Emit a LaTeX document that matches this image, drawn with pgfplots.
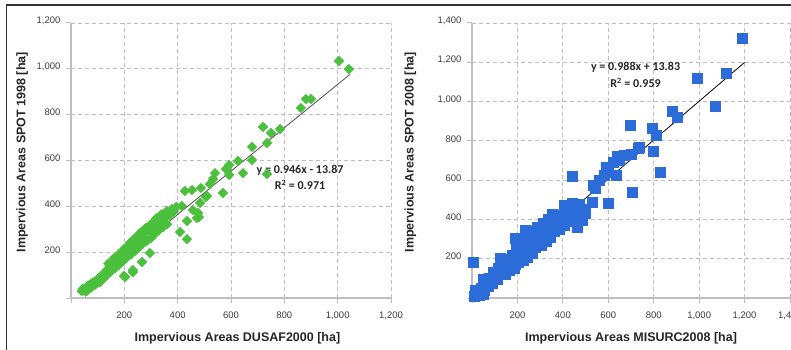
\documentclass[border=0pt]{standalone}
\usepackage{pgfplots}
\pgfplotsset{compat=1.18}
\usepackage{fontspec}
\setmainfont{Liberation Sans}
\newfontfamily\eqfont{Carlito}
\definecolor{ptgreen}{RGB}{74,192,60}
\definecolor{ptblue}{RGB}{44,108,216}
\definecolor{axgray}{RGB}{190,190,190}
\definecolor{txtgray}{RGB}{60,60,60}

\pgfplotstableread{
x y
40 30
45 42
50 35
55 28
58 48
62 40
66 55
70 46
74 60
78 52
82 68
86 58
90 72
95 64
100 82
104 74
108 90
109 70
112 80
116 98
120 92
124 108
128 100
132 118
136 110
140 128
144 120
148 140
152 132
156 150
160 142
164 158
168 150
172 170
176 160
180 178
184 170
188 190
192 180
196 200
200 190
204 208
208 198
212 220
216 210
220 228
224 218
228 240
232 230
236 250
240 238
244 258
248 248
252 268
256 256
260 280
264 268
268 290
272 278
276 298
280 288
285 305
290 295
295 315
300 305
305 325
310 312
315 335
320 322
325 342
330 332
336 350
342 340
348 362
355 352
362 370
370 362
378 388
386 378
395 398
60 32
75 45
90 58
105 70
120 82
135 100
150 115
165 130
180 145
195 160
210 178
225 190
240 205
255 220
270 238
285 250
300 262
315 280
330 295
345 310
360 322
199 96
203 92
232 113
232 122
266 157
296 196
409 288
435 257
435 336
472 349
480 353
476 371
457 384
382 384
416 401
484 415
140 150
160 172
180 192
200 215
220 240
240 262
260 285
280 305
300 322
320 348
340 365
360 380
427 467
454 471
487 480
570 458
510 445
506 441
521 497
533 519
540 545
593 537
585 559
581 563
593 580
626 598
679 602
645 545
679 659
735 676
720 746
750 720
784 737
735 541
862 829
881 868
900 868
1005 1034
1042 999
}\leftdata

\pgfplotstableread{
x y
10 10
20 30
30 15
40 50
48 97
55 40
60 70
70 60
80 90
90 75
100 110
110 95
120 130
123 204
130 120
140 160
150 140
160 180
170 155
180 200
189 305
190 170
200 220
205 180
210 240
220 200
230 260
233 346
240 230
250 270
260 240
270 300
280 260
285 361
290 320
300 280
310 340
320 300
330 360
340 320
350 380
351 428
360 340
370 400
380 360
390 420
400 380
408 473
410 440
420 400
430 460
440 420
443 484
450 470
460 440
461 412
461 361
470 480
480 450
487 397
500 430
4 183
13 41
50 20
75 100
95 130
115 150
135 180
155 200
175 220
195 260
215 280
235 300
255 320
275 340
295 360
315 380
335 400
355 420
145 120
165 140
185 150
225 190
245 210
265 230
305 270
325 290
345 310
385 350
405 370
425 390
445 400
527 489
535 575
543 560
584 626
592 667
601 484
636 626
443 621
593 667
641 723
671 728
702 733
733 764
737 769
707 540
830 641
698 881
794 866
812 830
799 748
882 952
904 921
992 1120
1071 977
1119 1146
1189 1324
560 600
600 640
620 690
650 700
}\rightdata

\pgfplotsset{
  panel/.style={
    scale only axis,
    axis lines=left,
    axis line style={-, draw=axgray, line width=1.6pt},
    grid=major,
    grid style={draw=axgray, line width=0.9pt, dash pattern=on 4pt off 3pt},
    tick align=outside,
    tick pos=left,
    major tick length=5pt,
    tick style={draw=axgray, line width=1pt},
    ticklabel style={font=\fontsize{9.5}{11}\selectfont, text=txtgray},
    xticklabel style={yshift=-5pt},
    yticklabel style={yshift=2pt, xshift=-2pt},
    label style={font=\bfseries\fontsize{12.5}{14}\selectfont, text=black!85},
    scaled ticks=false,
    /pgf/number format/assume math mode=true,
    /pgf/number format/1000 sep={,},
    extra x ticks={0}, extra y ticks={0},
    extra x tick labels={}, extra y tick labels={},
    extra tick style={grid=none},
    clip=false,
  },
}
\tikzset{eqtext/.style={font=\eqfont\bfseries\fontsize{12}{13}\selectfont, text=black!85}}

\begin{document}
\begin{tikzpicture}[x=1pt,y=1pt]
\draw[black!80, line width=1.3pt] (6.5,0) -- (6.5,345) -- (791,345);

\begin{axis}[panel,
  at={(71pt,52pt)}, anchor=south west,
  width=320pt, height=275pt,
  xmin=0, xmax=1200, ymin=0, ymax=1200,
  xtick={200,400,...,1200}, ytick={200,400,...,1200},
  xlabel={Impervious Areas DUSAF2000 [ha]},
  ylabel={Impervious Areas SPOT 1998 [ha]},
  xlabel style={at={(axis description cs:0.52,-0.145)}, anchor=center},
  ylabel style={at={(axis description cs:-0.153,0.53)}, anchor=center},
]
\addplot[only marks, mark=square*, mark size=3.4pt, mark options={rotate=45, fill=ptgreen, draw=ptgreen}] table[x=x,y=y] {\leftdata};
\addplot[no marks, black!70, line width=0.8pt] coordinates {(41,24.9) (1046,975.6)};
\node[eqtext] at (axis cs:859,559) {y = 0.946x - 13.87};
\node[eqtext] at (axis cs:859,493) {R\textsuperscript{2} = 0.971};
\end{axis}

\begin{axis}[panel,
  at={(472pt,52pt)}, anchor=south west,
  width=318pt, height=275pt,
  xmin=0, xmax=1400, ymin=0, ymax=1400,
  xtick={200,400,...,1400}, ytick={200,400,...,1400},
  xlabel={Impervious Areas MISURC2008 [ha]},
  ylabel={Impervious Areas SPOT 2008 [ha]},
  xlabel style={at={(axis description cs:0.5,-0.145)}, anchor=center},
  ylabel style={at={(axis description cs:-0.194,0.53)}, anchor=center},
]
\addplot[only marks, mark=square*, mark size=5pt, mark options={fill=ptblue, draw=ptblue}] table[x=x,y=y] {\rightdata};
\addplot[no marks, black, line width=0.8pt] coordinates {(0,13.83) (1200,1199.4)};
\node[eqtext] at (axis cs:720,1176) {y = 0.988x + 13.83};
\node[eqtext] at (axis cs:720,1095) {R\textsuperscript{2} = 0.959};
\end{axis}

\pgfresetboundingbox
\useasboundingbox (0,0) rectangle (791,350);
\end{tikzpicture}
\end{document}
